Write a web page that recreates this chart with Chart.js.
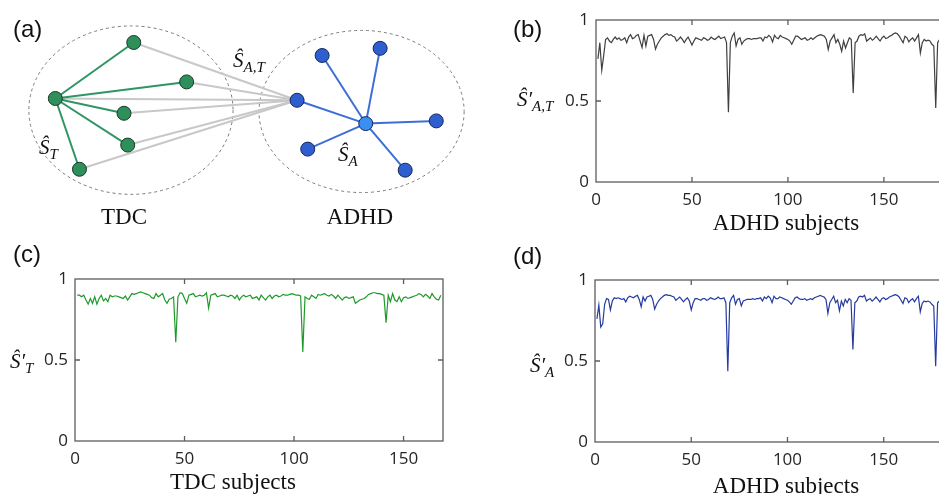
<!DOCTYPE html>
<html>
<head>
<meta charset="utf-8">
<script src="https://cdn.jsdelivr.net/npm/chart.js@4.4.1/dist/chart.umd.min.js"></script>
<style>
	body { margin: 0; width: 939px; height: 494px; overflow: hidden; background: #fff; position: relative; }
	canvas, .t { position: absolute; }
	.t { white-space: nowrap; line-height: 1; color: #111; }
	.panel { font: 24px 'Liberation Sans', Arial, sans-serif; }
	.serif { font: 23px 'Liberation Serif', 'Times New Roman', serif; text-align: center; width: 200px; }
	.m { font: italic 21px 'Liberation Serif', 'DejaVu Serif', serif; }
	.m .s { font-size: 15px; position: relative; top: 5px; }
</style>
</head>
<body>
<canvas id="net" width="480" height="240" style="left:0;top:0"></canvas>
<canvas id="sim-at" width="473" height="240" style="left:480px;top:0"></canvas>
<canvas id="sim-t" width="480" height="254" style="left:0;top:240px"></canvas>
<canvas id="sim-a" width="473" height="254" style="left:480px;top:240px"></canvas>

<div class="t panel" style="left:13px;top:15px">(a)</div>
<div class="t panel" style="left:513px;top:15px">(b)</div>
<div class="t panel" style="left:13px;top:240px">(c)</div>
<div class="t panel" style="left:513px;top:242px">(d)</div>

<div class="t m" style="left:233px;top:48px"><span>Ŝ</span><span class="s">A,T</span></div>
<div class="t m" style="left:39px;top:135px"><span>Ŝ</span><span class="s">T</span></div>
<div class="t m" style="left:338px;top:142px"><span>Ŝ</span><span class="s">A</span></div>
<div class="t serif" style="left:24px;top:204px">TDC</div>
<div class="t serif" style="left:260px;top:204px">ADHD</div>

<div class="t m" style="left:517px;top:87px"><span>Ŝ′</span><span class="s">A,T</span></div>
<div class="t m" style="left:10px;top:349px"><span>Ŝ′</span><span class="s">T</span></div>
<div class="t m" style="left:530px;top:353px"><span>Ŝ′</span><span class="s">A</span></div>
<div class="t serif" style="left:686px;top:210px">ADHD subjects</div>
<div class="t serif" style="left:133px;top:469px">TDC subjects</div>
<div class="t serif" style="left:686px;top:473px">ADHD subjects</div>

<script>
const d = document

// (a) node layout, in 48 px units
const tdcX = [2.71, 3.85, 1.02, 2.50, 2.58, 1.54],
	tdcY = [4.23, 3.35, 2.98, 2.65, 1.94, 1.40],
	adhdX = [6.77, 8.02, 6.23, 7.71, 9.23, 6.46, 8.56],
	adhdY = [3.94, 4.10, 2.94, 2.42, 2.48, 1.85, 1.38],
	tdcHub = 2,
	adhdHub = 3,
	bridgeNode = 2
// group outlines: cx, cy, rx, ry
const tdcRing = [2.65, 2.72, 2.20, 1.88],
	adhdRing = [7.62, 2.69, 2.21, 1.81]

// (b) S'_{A,T} per ADHD subject
const simAT = [
	0.76, 0.86, 0.69, 0.78, 0.88, 0.89, 0.87, 0.86, 0.88, 0.895,
	0.88, 0.89, 0.875, 0.88, 0.89, 0.86, 0.895, 0.91, 0.885, 0.89,
	0.905, 0.91, 0.87, 0.83, 0.905, 0.84, 0.90, 0.905, 0.91, 0.88,
	0.82, 0.85, 0.87, 0.89, 0.90, 0.91, 0.915, 0.905, 0.91, 0.90,
	0.895, 0.87, 0.88, 0.895, 0.88, 0.86, 0.88, 0.895, 0.87, 0.845,
	0.87, 0.89, 0.885, 0.88, 0.875, 0.89, 0.885, 0.875, 0.88, 0.895,
	0.885, 0.88, 0.89, 0.90, 0.885, 0.89, 0.895, 0.86, 0.43, 0.86,
	0.90, 0.92, 0.84, 0.88, 0.89, 0.85, 0.87, 0.88, 0.885, 0.885,
	0.88, 0.885, 0.885, 0.885, 0.89, 0.89, 0.87, 0.895, 0.89, 0.905,
	0.895, 0.865, 0.905, 0.89, 0.885, 0.905, 0.895, 0.89, 0.885, 0.88,
	0.87, 0.85, 0.875, 0.90, 0.90, 0.89, 0.88, 0.885, 0.89, 0.875,
	0.88, 0.89, 0.88, 0.89, 0.90, 0.905, 0.91, 0.905, 0.90, 0.88,
	0.817, 0.87, 0.89, 0.91, 0.86, 0.88, 0.85, 0.807, 0.87, 0.827,
	0.86, 0.89, 0.88, 0.55, 0.86, 0.87, 0.90, 0.91, 0.905, 0.915,
	0.87, 0.88, 0.89, 0.875, 0.885, 0.90, 0.885, 0.87, 0.89, 0.90,
	0.885, 0.89, 0.90, 0.905, 0.915, 0.92, 0.915, 0.90, 0.88, 0.86,
	0.90, 0.89, 0.865, 0.88, 0.89, 0.87, 0.89, 0.91, 0.796, 0.86,
	0.88, 0.87, 0.875, 0.87, 0.85, 0.84, 0.457, 0.86, 0.88
]
// (c) S'_T per TDC subject
const simT = [
	0.90, 0.90, 0.89, 0.90, 0.87, 0.845, 0.88, 0.85, 0.89, 0.845,
	0.88, 0.90, 0.865, 0.88, 0.86, 0.90, 0.89, 0.895, 0.895, 0.89,
	0.885, 0.88, 0.895, 0.87, 0.89, 0.91, 0.905, 0.91, 0.915, 0.92,
	0.915, 0.91, 0.905, 0.90, 0.885, 0.88, 0.91, 0.89, 0.90, 0.91,
	0.87, 0.85, 0.875, 0.88, 0.89, 0.61, 0.89, 0.915, 0.91, 0.88,
	0.85, 0.90, 0.905, 0.91, 0.89, 0.895, 0.90, 0.895, 0.90, 0.915,
	0.82, 0.90, 0.905, 0.91, 0.89, 0.895, 0.90, 0.90, 0.895, 0.89,
	0.90, 0.895, 0.88, 0.90, 0.87, 0.89, 0.90, 0.89, 0.895, 0.90,
	0.88, 0.885, 0.89, 0.87, 0.90, 0.885, 0.87, 0.89, 0.90, 0.88,
	0.895, 0.90, 0.89, 0.895, 0.905, 0.90, 0.90, 0.905, 0.91, 0.905,
	0.90, 0.90, 0.895, 0.55, 0.89, 0.88, 0.875, 0.90, 0.89, 0.88,
	0.905, 0.90, 0.905, 0.91, 0.90, 0.895, 0.905, 0.895, 0.88, 0.90,
	0.885, 0.87, 0.885, 0.89, 0.88, 0.885, 0.89, 0.85, 0.86, 0.87,
	0.875, 0.88, 0.89, 0.905, 0.91, 0.915, 0.915, 0.91, 0.91, 0.905,
	0.90, 0.73, 0.90, 0.86, 0.91, 0.87, 0.86, 0.89, 0.86, 0.885,
	0.89, 0.88, 0.885, 0.89, 0.895, 0.90, 0.91, 0.905, 0.89, 0.905,
	0.895, 0.88, 0.91, 0.89, 0.875, 0.87, 0.90
]
// (d) S'_A per ADHD subject
const simA = [
	0.76, 0.845, 0.71, 0.73, 0.85, 0.885, 0.88, 0.815, 0.87, 0.89,
	0.885, 0.89, 0.885, 0.88, 0.885, 0.865, 0.89, 0.90, 0.895, 0.89,
	0.90, 0.905, 0.88, 0.835, 0.895, 0.87, 0.895, 0.90, 0.905, 0.88,
	0.82, 0.85, 0.87, 0.885, 0.895, 0.905, 0.91, 0.905, 0.905, 0.90,
	0.895, 0.875, 0.885, 0.895, 0.88, 0.865, 0.88, 0.89, 0.87, 0.815,
	0.86, 0.885, 0.885, 0.88, 0.875, 0.885, 0.885, 0.875, 0.88, 0.89,
	0.885, 0.88, 0.885, 0.895, 0.885, 0.885, 0.89, 0.86, 0.437, 0.86,
	0.89, 0.905, 0.85, 0.88, 0.885, 0.84, 0.87, 0.875, 0.88, 0.88,
	0.88, 0.885, 0.88, 0.885, 0.885, 0.89, 0.87, 0.895, 0.885, 0.90,
	0.89, 0.86, 0.90, 0.885, 0.885, 0.895, 0.89, 0.885, 0.88, 0.875,
	0.865, 0.85, 0.87, 0.89, 0.895, 0.885, 0.88, 0.88, 0.885, 0.875,
	0.88, 0.885, 0.88, 0.89, 0.895, 0.90, 0.905, 0.90, 0.895, 0.88,
	0.794, 0.86, 0.88, 0.90, 0.86, 0.875, 0.81, 0.87, 0.84, 0.88,
	0.86, 0.885, 0.875, 0.571, 0.86, 0.87, 0.895, 0.90, 0.895, 0.905,
	0.87, 0.88, 0.885, 0.87, 0.88, 0.895, 0.88, 0.865, 0.885, 0.89,
	0.88, 0.885, 0.895, 0.90, 0.905, 0.91, 0.905, 0.895, 0.875, 0.855,
	0.89, 0.885, 0.86, 0.875, 0.885, 0.865, 0.885, 0.90, 0.804, 0.855,
	0.87, 0.865, 0.87, 0.865, 0.85, 0.84, 0.468, 0.86, 0.87
]
const xTicks = [0, 50, 100, 150],
	yTicks = [0, 0.5, 1]

const tickFont = { family: "'Open Sans', 'DejaVu Sans', sans-serif", size: 17 }

// dashed outlines round each group
const rings = {
	id: 'rings',
	beforeDatasetsDraw(chart) {
		const { ctx, scales: { x, y } } = chart
		ctx.save()
		ctx.setLineDash([3, 3])
		ctx.strokeStyle = '#7a7a7a'
		ctx.lineWidth = 1
		;[tdcRing, adhdRing].forEach(r => {
			const cx = x.getPixelForValue(r[0]),
				cy = y.getPixelForValue(r[1]),
				rx = x.getPixelForValue(r[0] + r[2]) - cx,
				ry = cy - y.getPixelForValue(r[1] + r[3])
			ctx.beginPath()
			ctx.ellipse(cx, cy, rx, ry, 0, 0, Math.PI * 2)
			ctx.stroke()
		})
		ctx.restore()
	}
}

// matlab style box with inward ticks
const frame = {
	id: 'frame',
	afterDatasetsDraw(chart) {
		const { ctx, chartArea: a, scales: { x, y } } = chart
		ctx.save()
		ctx.strokeStyle = '#5c5c5c'
		ctx.lineWidth = 1.3
		ctx.strokeRect(a.left, a.top, a.width, a.height)
		ctx.beginPath()
		x.ticks.forEach(t => {
			const px = x.getPixelForValue(t.value)
			if (px <= a.left + 1 || px >= a.right - 1) return
			ctx.moveTo(px, a.bottom); ctx.lineTo(px, a.bottom - 5)
			ctx.moveTo(px, a.top); ctx.lineTo(px, a.top + 5)
		})
		y.ticks.forEach(t => {
			const py = y.getPixelForValue(t.value)
			if (py <= a.top + 1 || py >= a.bottom - 1) return
			ctx.moveTo(a.left, py); ctx.lineTo(a.left + 5, py)
			ctx.moveTo(a.right, py); ctx.lineTo(a.right - 5, py)
		})
		ctx.stroke()
		ctx.restore()
	}
}

function createNetwork() {
	const pt = (xs, ys, i) => ({ x: xs[i], y: ys[i] }),
		edge = (a, b, color) => ({ data: [a, b], showLine: true, borderColor: color, borderWidth: 2, pointRadius: 0 })

	const nodes = [
		{
			data: tdcX.map((_, i) => pt(tdcX, tdcY, i)),
			pointRadius: 7, backgroundColor: '#2f8f5b', borderColor: '#173b28', borderWidth: 1
		},
		{
			data: adhdX.map((_, i) => pt(adhdX, adhdY, i)),
			pointRadius: 7, borderColor: '#16275c', borderWidth: 1,
			backgroundColor: adhdX.map((_, i) => i === adhdHub ? '#3b8ff3' : '#2f5fcf')
		}
	]
	const greenEdges = tdcX.map((_, i) => i).filter(i => i !== tdcHub)
			.map(i => edge(pt(tdcX, tdcY, tdcHub), pt(tdcX, tdcY, i), '#2f9563')),
		blueEdges = adhdX.map((_, i) => i).filter(i => i !== adhdHub)
			.map(i => edge(pt(adhdX, adhdY, adhdHub), pt(adhdX, adhdY, i), '#3c6fd6')),
		greyEdges = tdcX.map((_, i) => edge(pt(adhdX, adhdY, bridgeNode), pt(tdcX, tdcY, i), '#c8c8c8'))

	new Chart(d.getElementById('net'), {
		type: 'scatter',
		data: { datasets: [...nodes, ...greenEdges, ...blueEdges, ...greyEdges] },
		options: {
			responsive: false,
			animation: false,
			layout: { padding: 0 },
			plugins: { legend: { display: false }, tooltip: { enabled: false } },
			scales: {
				x: { type: 'linear', min: 0, max: 10, display: false },
				y: { type: 'linear', min: 0, max: 5, display: false }
			}
		},
		plugins: [rings]
	})
}

function createSimChart(id, values, color, yWidth, xHeight, padding, xMax) {
	new Chart(d.getElementById(id), {
		type: 'line',
		data: {
			labels: values.map((_, i) => i + 1),
			datasets: [{ data: values, borderColor: color, borderWidth: 1.2, pointRadius: 0, tension: 0 }]
		},
		options: {
			responsive: false,
			animation: false,
			layout: { padding },
			plugins: { legend: { display: false }, tooltip: { enabled: false } },
			scales: {
				x: {
					type: 'linear', min: 0, max: xMax,
					grid: { display: false, drawTicks: false },
					border: { display: false },
					afterBuildTicks: s => { s.ticks = xTicks.map(value => ({ value })) },
					afterFit: s => { s.height = xHeight },
					ticks: { padding: 8, font: tickFont, color: '#262626', maxRotation: 0, callback: v => String(v) }
				},
				y: {
					min: 0, max: 1,
					grid: { display: false, drawTicks: false },
					border: { display: false },
					afterBuildTicks: s => { s.ticks = yTicks.map(value => ({ value })) },
					afterFit: s => { s.width = yWidth },
					ticks: { padding: 7, font: tickFont, color: '#262626', callback: v => String(v) }
				}
			}
		},
		plugins: [frame]
	})
}

createNetwork()
createSimChart('sim-at', simAT, '#404040', 116, 58, { top: 20, right: 0, left: 0, bottom: 0 }, 186)
createSimChart('sim-t', simT, '#1f9a2a', 75, 53, { top: 39, right: 37, left: 0, bottom: 0 }, 168)
createSimChart('sim-a', simA, '#263b9e', 115, 52, { top: 40, right: 0, left: 0, bottom: 0 }, 186)
</script>
</body>
</html>
